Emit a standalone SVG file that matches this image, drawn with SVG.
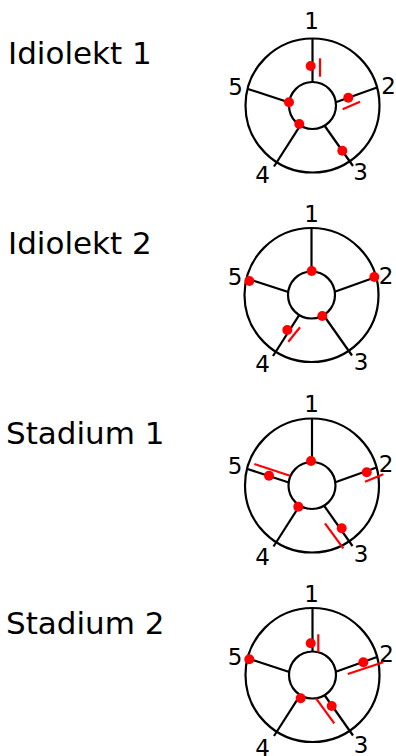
<svg xmlns="http://www.w3.org/2000/svg" width="396" height="756" viewBox="0 0 396 756">
<style>
.title{font-family:"DejaVu Sans",sans-serif;font-size:31px;fill:#000}
.num{font-family:"DejaVu Sans",sans-serif;font-size:23px;fill:#000;text-anchor:middle}
.ring{fill:none;stroke:#000;stroke-width:2.2}
.spoke{stroke:#000;stroke-width:2.2;fill:none}
.dot{fill:#f00}
.slash{stroke:#f00;stroke-width:2.2;fill:none}
</style>
<defs>
<g id="wheel">
<circle class="ring" cx="0" cy="0" r="67"/>
<circle class="ring" cx="0" cy="0" r="23.5"/>
<line class="spoke" x1="0" y1="-67" x2="0" y2="-23.5"/>
<line class="spoke" x1="64.5" y1="-18" x2="23.3" y2="-3.3"/>
<line class="spoke" x1="40.5" y1="60.5" x2="12.3" y2="20.5"/>
<line class="spoke" x1="-38.5" y1="61" x2="-12.5" y2="20.3"/>
<line class="spoke" x1="-64.5" y1="-16.5" x2="-23.2" y2="-3"/>
</g>
</defs>

<g id="idiolekt1">
<text class="title" x="8" y="64">Idiolekt 1</text>
<use href="#wheel" transform="translate(312.5,105.5)"/>
<text class="num" x="311.5" y="29">1</text>
<text class="num" x="388.5" y="94">2</text>
<text class="num" x="360.5" y="180">3</text>
<text class="num" x="262.5" y="183">4</text>
<text class="num" x="235.5" y="95">5</text>
<circle class="dot" cx="310.7" cy="66" r="5"/>
<circle class="dot" cx="348.3" cy="97.7" r="5"/>
<circle class="dot" cx="289" cy="102.3" r="5"/>
<circle class="dot" cx="299.3" cy="124" r="5"/>
<circle class="dot" cx="342.3" cy="150.7" r="5"/>
<line class="slash" x1="320" y1="58.3" x2="320" y2="76.7"/>
<line class="slash" x1="342.7" y1="109.3" x2="360" y2="101.7"/>
</g>

<g id="idiolekt2">
<text class="title" x="8" y="254">Idiolekt 2</text>
<use href="#wheel" transform="translate(311.5,295)"/>
<text class="num" x="311.5" y="222">1</text>
<text class="num" x="386" y="283.5">2</text>
<text class="num" x="361" y="370">3</text>
<text class="num" x="262.5" y="371.5">4</text>
<text class="num" x="235" y="285">5</text>
<circle class="dot" cx="311.7" cy="271" r="5"/>
<circle class="dot" cx="374.3" cy="277" r="5"/>
<circle class="dot" cx="322.3" cy="316" r="5"/>
<circle class="dot" cx="287.3" cy="330" r="5"/>
<circle class="dot" cx="249.3" cy="281" r="5"/>
<line class="slash" x1="288.3" y1="341.7" x2="300" y2="327.3"/>
</g>

<g id="stadium1">
<text class="title" x="6" y="444">Stadium 1</text>
<use href="#wheel" transform="translate(312,485.5)"/>
<text class="num" x="311.5" y="411.7">1</text>
<text class="num" x="386" y="471.7">2</text>
<text class="num" x="361" y="561.7">3</text>
<text class="num" x="262.5" y="565">4</text>
<text class="num" x="235" y="474">5</text>
<circle class="dot" cx="311" cy="461" r="5"/>
<circle class="dot" cx="366.7" cy="472.3" r="5"/>
<circle class="dot" cx="341.7" cy="528.3" r="5"/>
<circle class="dot" cx="298.3" cy="506.7" r="5"/>
<circle class="dot" cx="269" cy="475.7" r="5"/>
<line class="slash" x1="365" y1="481.7" x2="383.3" y2="474.3"/>
<line class="slash" x1="254.3" y1="464" x2="290" y2="475.7"/>
<line class="slash" x1="325" y1="523.3" x2="343.3" y2="548.3"/>
</g>

<g id="stadium2">
<text class="title" x="6" y="634">Stadium 2</text>
<use href="#wheel" transform="translate(312.5,675)"/>
<text class="num" x="311.5" y="601.7">1</text>
<text class="num" x="386.5" y="661.7">2</text>
<text class="num" x="361" y="753">3</text>
<text class="num" x="262.5" y="756">4</text>
<text class="num" x="235" y="665">5</text>
<circle class="dot" cx="310.7" cy="643.3" r="5"/>
<circle class="dot" cx="363.3" cy="662.3" r="5"/>
<circle class="dot" cx="331.7" cy="706" r="5"/>
<circle class="dot" cx="300.7" cy="698.3" r="5"/>
<circle class="dot" cx="249.3" cy="659.3" r="5"/>
<line class="slash" x1="318.3" y1="634.3" x2="318.3" y2="652.3"/>
<line class="slash" x1="347.7" y1="674" x2="383.3" y2="662.3"/>
<line class="slash" x1="316" y1="698.3" x2="334.3" y2="723.3"/>
</g>
</svg>
